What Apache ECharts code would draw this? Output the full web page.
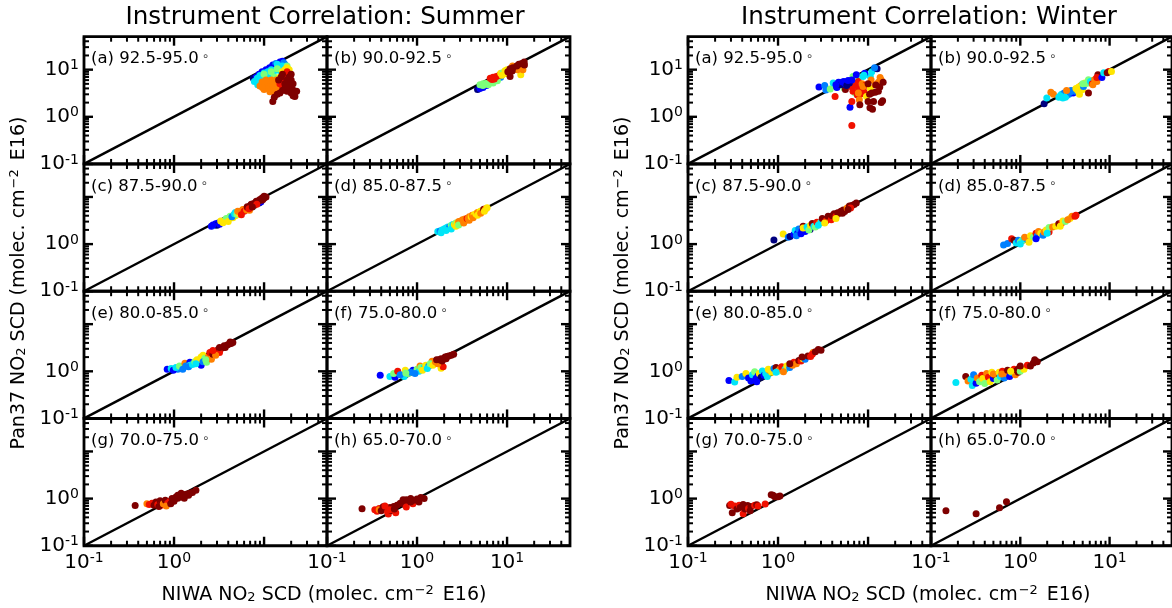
<!DOCTYPE html>
<html><head><meta charset="utf-8">
<style>html,body{margin:0;padding:0;background:#fff;overflow:hidden}#c{width:1172px;height:608px}</style>
<script src="https://cdn.jsdelivr.net/npm/echarts@6/dist/echarts.min.js"></script>
</head><body><div id="c"></div>
<script>
// colour index into the jet palette: [x, y, c]
const jetColors = ['#00007f','#0000ff','#007fff','#00e5f7','#7dff7a','#ffe600','#ff7f00','#f01000','#7f0000'];
const panelLabels = ['(a) 92.5-95.0','(b) 90.0-92.5','(c) 87.5-90.0','(d) 85.0-87.5','(e) 80.0-85.0','(f) 75.0-80.0','(g) 70.0-75.0','(h) 65.0-70.0'];
const majorTicks = [0.1,1,10];
const minorTicks = [0.2,0.3,0.4,0.5,0.6,0.7,0.8,0.9,2,3,4,5,6,7,8,9,20,30,40];

const summerA = [[7.6,6.6,0],[8.2,7,1],[8.8,8,1],[9.5,9,1],[10.5,10,1],[11.5,11,1],[12.5,12.5,1],[13.5,13.5,2],[15,14.5,1],[16,15,1],[14,12,2],[16.5,14,2],[17,13,2],[13,11,1],
[7.8,5.6,3],[9,7.5,3],[10,8.5,3],[11,9,3],[12,10,3],[13,9.5,3],[15,11,3],[16,12,3],[8.5,4.8,3],[8.4,6.6,3],[9.4,6.2,3],[10.5,7.2,3],[11.5,7.6,3],[14,13,3],[15,9.5,3],
[12,9,4],[14,10.5,4],[18,12,4],[10,8,4],[13,7,4],[15,4.5,4],[17,10,5],[16,9,5],[18,11,5],[15,7,5],[19,10,5],
[9,4.5,6],[10,3.8,6],[10,5,6],[11,4.2,6],[11,5.5,6],[12,3.8,6],[12,5,6],[12,6,6],[13,4.5,6],[13,3.4,6],[14,5,6],[9.5,5.5,6],[10.5,6,6],[14,4,6],[9.6,4.2,6],[11.6,3.4,6],[12.6,5.6,6],[13.6,6,6],
[16,6,7],[15,5,7],[17,7,7],[18,8,7],[16,4.5,7],[18,9,7],
[15.5,7,8],[16,8,8],[17,5,8],[18,6,8],[19,4,8],[20,6,8],[18,3.5,8],[20,3.2,8],[21,3.7,8],[22,3.3,8],[22,2.7,8],[20,5,8],[21,5,8],[17,4,8],[16,3.6,8],[14,3,8],[13,2.6,8],[12.5,2.1,8],[15,3.2,8],[19,7,8],[20,8,8],[18,4.5,8],[14.5,6,8],[21,2.8,8],[23,3.5,8]];
const summerB = [[4.7,3.8,0],[5,4,1],[5.4,4.2,1],[5.9,4.6,1],[5,4.8,4],[5.4,5,4],[5.8,5.1,4],[6.3,5.3,4],[6.8,5.6,4],[7.4,6,4],[8,6.5,4],[8.5,6.9,2],[5.4,4.6,4],[6.2,4.8,4],[7,5.2,4],[7.8,5.8,4],
[6.5,6.6,7],[7,6.9,7],[7.6,7.2,7],[8.2,7.6,7],[7.2,6.3,7],[6.8,6.2,7],[8.5,8.4,5],[9,8.6,4],[8.8,7.6,5],[9.5,9.5,5],[10,10,5],[11,9.5,5],[10,8.2,5],[11.5,12,6],[12.5,11.5,6],[13.5,12.5,6],[14.2,7.8,5],[14,11,6],[15,13,6],[13,10,6],[15,10,6],
[10.2,9,8],[10.8,10.4,8],[11.6,11,8],[10.8,7.2,8],[12.8,12,8],[13.5,13,8],[14.5,13.5,8],[15.5,14.5,8],[15.6,12.5,8],[11.4,9.4,8]];
const summerC = [[2.6,2.4,1],[2.8,2.5,2],[2.9,2.7,1],[3.1,2.8,1],[3.3,2.9,2],[3,2.5,0],[3.5,3,3],[2.7,2.55,1],[3.2,2.65,1],[8.8,7.4,0],[9.2,7.8,1],[7.5,6.3,3],
[3.3,3.1,5],[3.6,3.1,5],[3.9,3.3,5],[4.2,3.6,5],[4.5,3.6,5],[3.8,3.5,4],[4.2,3.9,4],[4.8,4,5],[3.5,2.85,5],[4,3,5],[4.4,3.8,2],[4.7,4.4,3],[4.8,4.7,3],[5,4.3,4],[5.3,4.4,5],
[5.1,5,6],[5.5,4.8,6],[5.8,5.4,6],[6,5,7],[6.4,5.3,6],[5.6,4.2,7],[6.5,6,7],[6.9,5.2,6],
[6.5,6.2,8],[7,6.5,8],[7.2,7,8],[7.6,7.2,8],[8,7.5,8],[8.2,8.1,8],[8.6,8.2,8],[9,8.8,8],[9.5,9.5,8],[10,9.5,8],[10.5,10,8],[7.8,6.7,8],[9.4,8.5,8],[6.8,5.6,7],[8.3,7,7],[7.4,6.1,8],[9.7,8.8,8],[10,10.3,8]];
const summerD = [[1.7,1.85,3],[1.8,1.9,2],[1.9,2,3],[2,2.1,3],[1.85,1.75,3],[2.1,2.2,3],[2.2,2.3,3],[2.3,2.3,2],[2.1,1.95,3],[2.4,2.5,4],[2.5,2.6,3],[2.4,2.1,3],[2.6,2.6,5],[2.7,2.8,4],[2.8,2.8,5],[2.7,2.4,5],[2.9,3,6],[3,2.9,6],[3.1,3.1,6],[2.9,2.55,4],[3.2,3.3,6],[3.3,3,6],[3.4,3.4,6],[3.5,3.2,6],[3.3,2.8,6],[3.6,3.5,7],[3.7,3.5,6],[3.8,3.8,6],[3.8,3.2,6],[4,3.8,5],[4.1,4.1,6],[4.3,4.2,5],[4.2,3.6,6],[4.5,4.4,5],[4.7,4.7,6],[4.7,4.1,5],[5,4.9,5],[5.2,5.1,5],[5.1,4.5,6],[5.5,5.5,8],[5.8,5.6,6],[5.6,5,5],[6,5.9,5]];
const summerE = [[0.84,1.1,1],[0.93,1.14,3],[1.1,1.1,2],[0.98,1.05,1],[1.2,1.15,2],[1.05,1.2,3],[1.15,1.3,4],[1.25,1.1,2],[1.32,1.48,6],[1.5,1.55,1],[2,1.34,1],[1.35,1.3,2],[1.5,1.35,3],[1.45,1.25,2],[1.6,1.4,3],[1.7,1.6,4],[1.95,1.8,3],[1.8,1.75,5],[1.75,1.45,3],[2.1,2.2,5],[2,2,5],[2.2,1.9,4],[2.1,1.6,2],[2.3,1.55,4],[2.6,1.8,6],[2.4,2,6],[2.25,1.75,4],[2.5,2.5,7],[2.7,2.3,8],[2.8,2.6,8],[3,2.7,8],[3.1,2.9,8],[3.3,3,8],[3.5,3.2,8],[3.6,3.5,8],[3.9,3.6,8],[4.1,3.8,8],[4.3,3.9,8],[4.5,4.1,8],[3.2,2.5,7],[2.9,2.2,6],[2.7,2.75,7],[3.2,3.2,8],[3.7,3.2,8],[4.2,4.2,8]];
const summerF = [[0.39,0.82,1],[0.5,0.78,3],[0.57,0.75,1],[0.55,0.9,4],[0.61,1,7],[0.74,1.05,5],[0.72,0.78,3],[0.65,0.85,2],[0.8,0.9,4],[0.9,1.05,1],[0.85,0.95,2],[0.75,0.92,4],[1,1.1,4],[1.05,1,3],[0.95,0.9,2],[1.08,1.3,6],[1.1,1.2,4],[1.2,1.2,3],[1.15,1.05,5],[1.25,1.35,5],[1.35,1.3,2],[1.3,1.15,3],[1.47,1.63,6],[1.4,1.45,4],[1.5,1.35,5],[1.85,1.16,5],[1.95,1.25,7],[1.6,1.6,6],[1.7,1.45,6],[1.65,1.75,8],[1.75,1.75,8],[1.85,1.85,8],[1.95,1.8,8],[2.05,2,8],[2.15,2.05,8],[2.25,2.1,8],[2.4,2.2,8],[2.55,2.3,8],[1.9,1.65,8],[2.1,1.85,8]];
const summerG = [[0.37,0.71,8],[0.5,0.78,6],[0.53,0.75,7],[0.57,0.8,7],[0.6,0.72,8],[0.63,0.85,8],[0.66,0.75,7],[0.7,0.9,8],[0.72,0.72,7],[0.74,0.82,8],[0.68,0.68,8],[0.76,0.78,6],[0.8,0.92,8],[0.85,0.8,7],[0.82,0.7,6],[0.9,0.88,7],[0.95,1,8],[1,0.95,8],[0.92,0.78,8],[1.05,1.08,8],[1.1,1.02,8],[1,0.88,8],[1.15,1.15,8],[1.2,1.08,8],[1.25,1.2,8],[1.3,1.15,8],[1.35,1.22,8],[1.4,1.25,8],[1.45,1.18,8],[1.5,1.3,8],[1.6,1.35,8],[1.75,1.5,8],[1.2,1.3,8],[1.1,1.18,8],[1.3,1.02,8]];
const summerH = [[0.245,0.61,8],[0.34,0.58,7],[0.36,0.54,7],[0.38,0.62,7],[0.38,0.58,6],[0.4,0.55,8],[0.42,0.67,8],[0.45,0.62,8],[0.47,0.52,7],[0.48,0.47,7],[0.5,0.65,8],[0.52,0.56,8],[0.55,0.68,8],[0.58,0.5,7],[0.6,0.72,8],[0.44,0.7,7],[0.5,0.58,7],[0.56,0.6,8],[0.65,0.8,8],[0.7,0.88,8],[0.72,0.76,8],[0.76,0.94,8],[0.8,0.85,8],[0.85,1,8],[0.9,0.78,7],[0.92,0.92,8],[1,0.98,8],[1.05,0.85,8],[1.1,1.05,8],[1.2,1,8],[0.76,0.66,7],[0.85,0.85,8],[0.7,0.95,8]];
const winterA = [[2.85,4.3,1],[3.3,4.6,2],[3.4,3.7,2],[3.8,3.9,4],[4.1,5.2,3],[5.4,4.1,4],[6.8,7.2,4],[8,7,4],[10.6,7.2,3],[7.2,3.2,4],[6.3,1.6,1],
[5.6,3.8,8],[6.4,4.4,7],[6.8,3.5,7],[7.2,4.6,7],[7.8,5.6,7],[8,4,7],[8.2,3,7],[8.6,5,6],[9,3.4,7],[9.3,4.6,7],[7.6,2.9,7],[8.4,3.6,7],[8.8,4.4,6],[7.8,3.2,6],[9.6,2.7,5],[10.6,4,5],[10.8,6,6],[12,4.8,6],[13.6,6.8,6],[14,6,6],[13,5.4,6],[8,2.3,6],[6.6,2.1,7],[4.3,2.7,7],
[4.5,4.2,1],[4.7,5.4,1],[5,4.8,0],[4.4,4.8,1],[5.2,5.5,1],[5.4,5.6,1],[5.6,5,1],[5.8,4.6,0],[6.2,5.2,0],[6,5.9,1],[6.6,6,1],[7.4,7.8,1],[8.8,7.2,3],[9.2,8.4,1],[11,9,3],[12.6,10.5,0],[11.8,11,2],[9,7.6,3],
[6.6,0.65,7],[10,5,8],[11,3.2,8],[12,3.3,8],[13,3.5,8],[14.7,5.4,8],[13.5,4.3,8],[12.2,4.7,8],[10,2.1,8],[11.5,2.1,8],[14.5,2.2,8],[14,2,8],[8.1,1.8,8],[10.5,1.55,8],[11.2,1.45,8],[10.4,3,8]];
const winterB = [[1.85,1.9,0],[1.98,2.5,3],[2.2,3.3,6],[2.35,3,6],[2.7,2.6,3],[2.9,3,3],[3,2.5,3],[3.1,3.2,2],[3.3,2.8,3],[3.5,3,2],[2.8,2.8,3],[3.2,2.6,3],[3.7,3.6,2],[3.9,3.2,1],[4.1,3.5,2],[3.6,3.3,2],[3.3,3.6,6],[4.2,4,5],[4.4,3.6,5],[4.6,3,5],[4.8,4.6,6],[5,3.8,5],[4.5,4.3,5],[5.1,4.4,2],[5.3,5.2,5],[5.5,5.1,4],[5,5,4],[5.8,6.1,4],[5.8,3.2,8],[6.1,5.6,3],[6.4,5,7],[6.8,6.1,6],[6.5,4.8,6],[7.2,5.6,6],[7.4,7.8,8],[7.8,7.2,8],[7.2,6.8,7],[8.2,6.8,1],[8.6,8.6,3],[9.8,9.1,7],[9.4,8.6,8],[10.5,9.1,5]];
const winterC = [[0.9,1.22,0],[1.14,1.63,5],[1.3,1.4,2],[1.36,1.45,0],[1.5,1.6,1],[1.55,1.95,3],[1.65,1.7,1],[1.6,1.5,2],[1.7,2.1,2],[1.8,1.65,1],[1.85,1.95,1],[2,1.85,1],[2.27,2.05,0],[1.9,2.4,8],[1.9,2.2,5],[2.1,2.3,3],[2.2,2,4],[2.3,2.5,5],[2.4,2.75,8],[2.5,2.4,3],[2.6,2.3,4],[2.7,2.9,7],[2.9,2.8,6],[3,2.9,3],[2.8,2.5,3],[3.2,3.2,3],[3.1,3.5,8],[3.4,3.1,7],[3.3,2.8,5],[3.7,3.6,6],[3.6,3.9,8],[3.9,3.3,7],[4,4,8],[4.2,4.4,8],[4.4,3.9,7],[4.6,4.6,8],[4.8,4.5,8],[4.4,3.5,5],[5,5,8],[5.3,5.3,8],[5.5,4.9,8],[5.2,4.5,8],[5.85,5.8,6],[6.2,6.4,8],[6.6,6.6,8],[7,6.9,8],[7.4,7.4,8],[6.4,5.8,7],[6,5.4,8]];
const winterD = [[0.65,0.96,2],[0.72,1.03,2],[0.8,1.3,7],[0.85,1.2,8],[0.9,1.05,3],[0.95,1.2,2],[1,1.1,4],[1.05,1.2,4],[1.1,1.3,3],[1,1,3],[1.2,1.25,2],[1.12,1.4,6],[1.3,1.5,5],[1.4,1.4,4],[1.25,1.1,5],[1.5,1.7,7],[1.55,1.5,2],[1.6,1.85,6],[1.7,1.7,5],[1.5,1.3,1],[1.8,1.55,2],[1.85,1.8,6],[1.95,2,5],[2.1,1.8,7],[2.1,2.25,4],[2,1.7,3],[2.3,2.3,6],[2.5,2.4,5],[2.7,2.7,8],[2.9,2.8,7],[3,3.1,5],[3.2,3,4],[2.8,2.4,5],[3.6,3.5,5],[3.8,3.9,6],[3.4,3.3,6],[4.1,3.9,7],[4.2,4.1,7]];
const winterE = [[0.285,0.64,1],[0.33,0.59,3],[0.35,0.75,5],[0.4,0.78,2],[0.44,0.9,5],[0.47,0.72,1],[0.5,0.62,1],[0.52,0.85,3],[0.55,0.98,4],[0.57,0.7,1],[0.6,0.8,1],[0.62,0.9,5],[0.65,0.75,0],[0.58,0.6,1],[0.67,1.02,3],[0.7,0.82,1],[0.73,0.9,3],[0.76,0.78,3],[0.8,1.05,6],[0.85,0.95,5],[0.78,1.1,5],[0.9,1.15,2],[0.95,1.2,8],[1,1,4],[1.05,1.12,6],[0.95,0.95,3],[1.1,1.25,7],[1.2,1.1,3],[1.25,1.3,5],[1.15,0.98,6],[1.35,1.2,2],[1.45,1.35,6],[1.5,1.55,7],[1.6,1.45,6],[1.35,1.45,8],[1.7,1.7,8],[1.8,1.65,7],[1.9,1.85,5],[2,1.8,2],[2.15,2.1,8],[2.3,2.05,7],[1.85,2,8],[2.45,2.5,6],[2.4,2.3,7],[2.6,2.6,8],[2.8,2.9,8],[3,2.8,8]];
const winterF = [[0.19,0.58,3],[0.245,0.78,8],[0.26,0.62,6],[0.28,0.68,3],[0.29,0.5,3],[0.3,0.85,2],[0.32,0.56,1],[0.33,0.72,6],[0.35,0.6,4],[0.37,0.82,7],[0.38,0.7,5],[0.4,0.55,4],[0.42,0.9,6],[0.44,0.75,7],[0.46,0.6,5],[0.48,0.95,5],[0.5,0.7,1],[0.52,0.82,8],[0.55,0.65,4],[0.5,0.88,6],[0.58,0.95,5],[0.6,0.78,3],[0.63,1,7],[0.66,0.72,2],[0.62,0.88,6],[0.7,0.9,6],[0.72,1.05,8],[0.76,0.78,1],[0.8,0.95,3],[0.85,1.1,7],[0.88,0.85,6],[0.92,1.05,8],[0.78,1,5],[0.97,1.16,8],[0.95,0.95,8],[1,1,4],[1.1,1.1,5],[1,1.3,8],[1.2,1.35,7],[1.3,1.3,8],[1.4,1.5,8],[1.55,1.6,8],[1.45,1.75,8]];
const winterG = [[0.29,0.71,8],[0.3,0.76,7],[0.31,0.5,8],[0.33,0.7,7],[0.35,0.6,8],[0.37,0.72,7],[0.38,0.65,8],[0.41,0.48,7],[0.41,0.75,8],[0.43,0.6,8],[0.46,0.71,8],[0.47,0.62,7],[0.49,0.55,8],[0.5,0.68,8],[0.55,0.72,7],[0.58,0.74,8],[0.6,0.7,7],[0.72,0.77,7],[0.84,1.2,8],[0.88,1.18,8],[0.92,1.1,8],[1,1.1,8],[1.05,1.13,8]];
const winterH = [[0.147,0.55,8],[0.32,0.48,8],[0.585,0.64,8],[0.7,0.86,8]];
const summerPanels = [summerA,summerB,summerC,summerD,summerE,summerF,summerG,summerH];
const winterPanels = [winterA,winterB,winterC,winterD,winterE,winterF,winterG,winterH];

const font = 'DejaVu Sans';
const tickData = [];
majorTicks.forEach(v=>{tickData.push([v,0.1,0,9],[v,50,1,9],[0.1,v,2,9],[50,v,3,9]);});
minorTicks.forEach(v=>{tickData.push([v,0.1,0,5],[v,50,1,5],[0.1,v,2,5],[50,v,3,5]);});

function expLabel(v){
  const e = Math.round(Math.log10(v));
  return '{a|10}{b|'+e+'}';
}
const rich = {a:{fontFamily:font,fontSize:20,color:'#000'},b:{fontFamily:font,fontSize:14,color:'#000',padding:[0,0,8,0]}};

const grids=[],xAxes=[],yAxes=[],series=[],graphics=[];
function addPanel(data,label,left,top,col,row){
  const i=grids.length;
  grids.push({left:left,top:top,width:243,height:127.25,show:true,borderColor:'#000',borderWidth:2.8,backgroundColor:'transparent'});
  xAxes.push({type:'log',logBase:10,gridIndex:i,min:0.1,max:50,
    axisLine:{show:false},axisTick:{show:false},splitLine:{show:false},minorTick:{show:false},
    axisLabel:{show:row===3,customValues:col===0?[0.1,1]:[0.1,1,10],formatter:expLabel,rich:rich,margin:6}});
  yAxes.push({type:'log',logBase:10,gridIndex:i,min:0.1,max:50,
    axisLine:{show:false},axisTick:{show:false},splitLine:{show:false},minorTick:{show:false},
    axisLabel:{show:col===0,customValues:row===0?[0.1,1,10]:[0.1,1],formatter:expLabel,rich:rich,margin:5}});
  series.push({type:'line',xAxisIndex:i,yAxisIndex:i,data:[[0.1,0.1],[50,50]],showSymbol:false,silent:true,z:2,clip:true,
    lineStyle:{color:'#000',width:2.5}});
  series.push({type:'scatter',xAxisIndex:i,yAxisIndex:i,data:data,symbolSize:7,z:3,silent:true,clip:false,
    itemStyle:{opacity:1,color:p=>jetColors[p.value[2]]}});
  series.push({type:'custom',xAxisIndex:i,yAxisIndex:i,data:tickData,z:4,silent:true,clip:false,
    encode:{x:0,y:1},
    renderItem:(params,api)=>{
      const p=api.coord([api.value(0),api.value(1)]);
      const kind=api.value(2),len=api.value(3);
      const d=[[0,-len],[0,len],[len,0],[-len,0]][kind];
      return {type:'line',shape:{x1:p[0],y1:p[1],x2:p[0]+d[0],y2:p[1]+d[1]},style:{stroke:'#000',lineWidth:len>5?2.4:2}};
    }});
  graphics.push({type:'text',left:left+7,top:top+14,z:10,silent:true,
    style:{text:label+'{d|∘}',fontFamily:font,fontSize:16.5,fill:'#000',rich:{d:{fontFamily:font,fontSize:12,fill:'#444',padding:[0,0,5,3]}}}});
}
const colLeft=[[84,327],[688,931]];
const rowTop=[36.7,164,291.2,418.5];
[summerPanels,winterPanels].forEach((panels,block)=>{
  panels.forEach((d,k)=>{
    const col=k%2,row=Math.floor(k/2);
    addPanel(d,panelLabels[k],colLeft[block][col],rowTop[row],col,row);
  });
});
function head(text,x){graphics.push({type:'text',x:x,y:18,z:10,silent:true,style:{text:text,fontFamily:font,fontSize:24.6,fill:'#000',align:'center',verticalAlign:'middle'}});}
head('Instrument Correlation: Summer',325);
head('Instrument Correlation: Winter',929);
const nameRich={s:{fontFamily:font,fontSize:13,fill:'#000',padding:[0,0,-5,0]},p:{fontFamily:font,fontSize:13,fill:'#000',padding:[0,3,9,1]}};
function xName(x){graphics.push({type:'text',x:x,y:595,z:10,silent:true,style:{text:'NIWA NO{s|2} SCD (molec. cm{p|−2} E16)',fontFamily:font,fontSize:19,fill:'#000',align:'center',verticalAlign:'middle',rich:nameRich}});}
function yName(x){graphics.push({type:'text',x:x,y:283,rotation:Math.PI/2,z:10,silent:true,style:{text:'Pan37 NO{s|2} SCD (molec. cm{p|−2} E16)',fontFamily:font,fontSize:19,fill:'#000',align:'center',verticalAlign:'middle',rich:nameRich}});}
xName(324);xName(928);yName(19);yName(623);

const chart=echarts.init(document.getElementById('c'),null,{renderer:'canvas'});
chart.setOption({animation:false,backgroundColor:'#fff',grid:grids,xAxis:xAxes,yAxis:yAxes,series:series,graphic:graphics});
</script></body></html>
